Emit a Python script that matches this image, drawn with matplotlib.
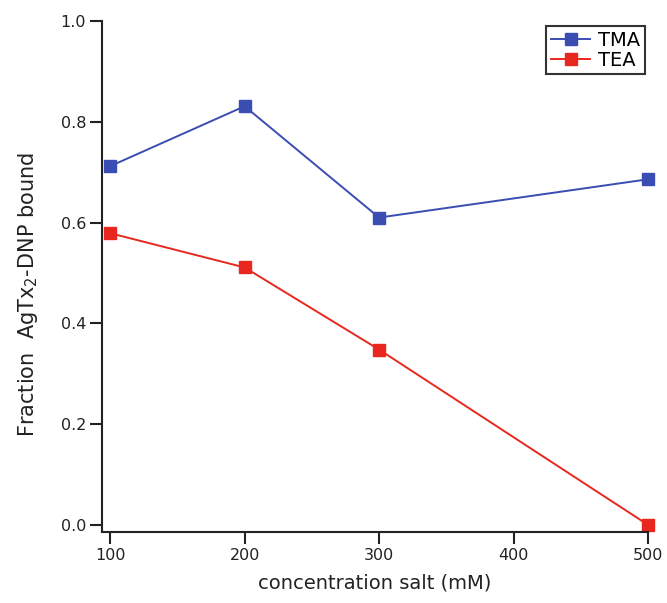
import matplotlib
matplotlib.use("Agg")
import matplotlib.pyplot as plt

plt.rcParams['font.family'] = ['DejaVu Sans']

# data
salt_mM = [100, 200, 300, 500]
tma = [0.712, 0.831, 0.610, 0.686]
tea = [0.579, 0.511, 0.348, 0.0]
x_ticks = [100, 200, 300, 400, 500]
y_ticks = [0.0, 0.2, 0.4, 0.6, 0.8, 1.0]

blue = "#3a4db3"
red = "#e8281e"
ink = "#222222"

fig = plt.figure(figsize=(6.67, 6.03), dpi=100)
ax = fig.add_axes([0.153, 0.117, 0.8186, 0.848])

ax.plot(salt_mM, tma, color=blue, lw=1.4, marker="s", ms=8.5, label="TMA", clip_on=False)
ax.plot(salt_mM, tea, color=red, lw=1.4, marker="s", ms=8.5, label="TEA", clip_on=False)

ax.set_xlim(94, 500)
ax.set_ylim(-0.015, 1.0)
ax.set_xticks(x_ticks)
ax.set_yticks(y_ticks)
ax.set_yticklabels(["%.1f" % v for v in y_ticks])

for s in ["top", "right"]:
    ax.spines[s].set_visible(False)
for s in ["left", "bottom"]:
    ax.spines[s].set_linewidth(1.5)
    ax.spines[s].set_color(ink)
ax.tick_params(direction="out", length=8.5, width=1.5, labelsize=11.5, colors=ink, pad=3)

ax.set_xlabel("concentration salt (mM)", fontsize=14, color=ink, labelpad=7)
ax.set_ylabel(r"Fraction  AgTx$_\mathregular{2}$-DNP bound", fontsize=15, color=ink)
ax.yaxis.set_label_coords(-0.113, 0.466)

leg = ax.legend(loc="upper right", bbox_to_anchor=(1.012, 1.01), fontsize=14,
                frameon=True, fancybox=False, edgecolor="black",
                handlelength=2.0, borderpad=0.25, labelspacing=0.05, handletextpad=0.4)
leg.get_frame().set_linewidth(1.5)

fig.savefig("out.png", dpi=100)
